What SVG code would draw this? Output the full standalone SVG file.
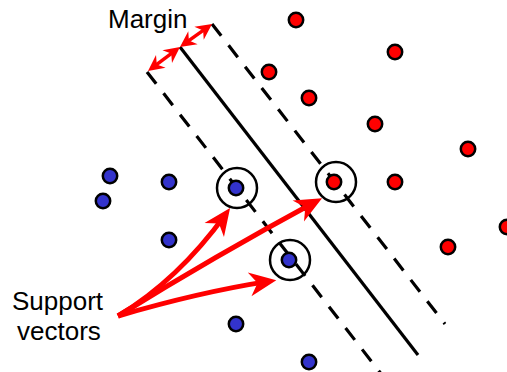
<svg xmlns="http://www.w3.org/2000/svg" width="507" height="372" viewBox="0 0 507 372">
<style>
.txt{font-family:"Liberation Sans",Arial,sans-serif;font-size:26px;fill:#000}
.red{fill:#ff0000;stroke:#000;stroke-width:2.5}
.blue{fill:#3333cc;stroke:#000;stroke-width:2.5}
.ring{fill:none;stroke:#000;stroke-width:2.5}
.solid{stroke:#000;stroke-width:3.2;fill:none}
.dash{stroke:#000;stroke-width:3.2;fill:none;stroke-dasharray:15 12}
.arrow{stroke:#ff0000;stroke-width:5;fill:none;marker-end:url(#bigHead)}
.marg{stroke:#ff0000;stroke-width:3.5;fill:none;marker-start:url(#smallHead);marker-end:url(#smallHead)}
</style>
<defs>
<marker id="bigHead" markerUnits="userSpaceOnUse" viewBox="-28 -13 30 26" markerWidth="30" markerHeight="26" refX="-8" refY="0" orient="auto" overflow="visible">
<path d="M0,0 L-27,-12 L-19,0 L-27,12 Z" fill="#ff0000"/>
</marker>
<marker id="smallHead" markerUnits="userSpaceOnUse" viewBox="-18 -9 20 18" markerWidth="20" markerHeight="18" refX="-4" refY="0" orient="auto-start-reverse" overflow="visible">
<path d="M0,0 L-16,-8 L-11,0 L-16,8 Z" fill="#ff0000"/>
</marker>
</defs>
<rect width="507" height="372" fill="#fff"/>
<g id="lines">
<line id="hyperplane" class="solid" x1="180" y1="47" x2="418" y2="355"/>
<line id="margin-left" class="dash" x1="147" y1="72" x2="382" y2="375"/>
<line id="margin-right" class="dash" x1="212" y1="24" x2="445" y2="324"/>
</g>
<g id="red-points">
<circle class="red" cx="296" cy="20" r="7.2"/>
<circle class="red" cx="395" cy="52" r="7.2"/>
<circle class="red" cx="269" cy="72" r="7.2"/>
<circle class="red" cx="309" cy="98" r="7.2"/>
<circle class="red" cx="375" cy="124" r="7.2"/>
<circle class="red" cx="468" cy="149" r="7.2"/>
<circle class="red" cx="395" cy="182" r="7.2"/>
<circle class="red" cx="507" cy="227" r="7.2"/>
<circle class="red" cx="448" cy="247" r="7.2"/>
</g>
<g id="blue-points">
<circle class="blue" cx="110" cy="176" r="7.2"/>
<circle class="blue" cx="103" cy="201" r="7.2"/>
<circle class="blue" cx="169" cy="182" r="7.2"/>
<circle class="blue" cx="169" cy="240" r="7.2"/>
<circle class="blue" cx="236" cy="324" r="7.2"/>
<circle class="blue" cx="309" cy="362" r="7.2"/>
</g>
<g id="sv-blue-1">
<circle class="blue" cx="236" cy="188" r="7.2"/>
<circle class="ring" cx="237" cy="188" r="20"/>
</g>
<g id="sv-red">
<circle class="red" cx="334" cy="182" r="7.2"/>
<circle class="ring" cx="336" cy="182" r="20"/>
</g>
<g id="sv-blue-2">
<circle class="blue" cx="289" cy="260" r="7.2"/>
<circle class="ring" cx="290" cy="260" r="20"/>
</g>
<g id="connectors">
<path class="marg" d="M151.2,68.6 L176.8,49.4"/>
<path class="marg" d="M183.2,44.7 L208.8,26.3"/>
<path class="arrow" d="M118,316 Q178,280 225.4,214.6"/>
<path class="arrow" d="M118,316 Q215,256 315,202"/>
<path class="arrow" d="M118,316 Q200,292 268.4,281.4"/>
</g>
<g id="labels">
<text class="txt" x="108" y="28">Margin</text>
<text class="txt" x="12" y="310">Support</text>
<text class="txt" x="17" y="340">vectors</text>
</g>
</svg>
